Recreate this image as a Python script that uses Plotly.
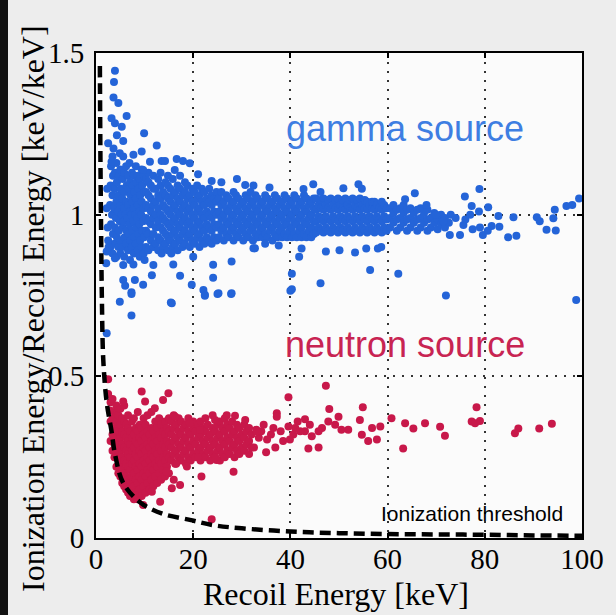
import plotly.graph_objects as go

# ---------------- data ----------------
x_ticks = [0, 20, 40, 60, 80, 100]
y_ticks = [0, 0.5, 1, 1.5]
y_ticktext = ["0", "0.5", "1", "1.5"]

threshold_x = [0.8, 0.9, 1.05, 1.2, 1.5, 2.2, 3.2, 3.9, 5.6, 9.1, 13.5, 19.3, 24, 30, 40, 50, 60, 70, 80, 90, 100]
threshold_y = [1.46, 1.2, 0.95, 0.75, 0.55, 0.42, 0.33, 0.26, 0.17, 0.11, 0.076, 0.056, 0.040, 0.030, 0.020, 0.015, 0.012, 0.011, 0.010, 0.008, 0.007]

gamma_core = [
    (3.0,0.90),(3.1,0.97),(2.9,1.03),(3.0,1.09),(3.1,1.15),
    (3.4,0.88),(3.5,0.94),(3.3,1.00),(3.4,1.06),(3.5,1.12),(3.4,1.18),
    (3.8,0.91),(3.9,0.96),(3.7,1.02),(3.8,1.08),(3.9,1.13),
    (4.2,0.87),(4.3,0.93),(4.1,0.99),(4.2,1.04),(4.3,1.10),(4.2,1.16),
    (4.6,0.90),(4.7,0.95),(4.5,1.01),(4.6,1.06),(4.7,1.12),
    (5.0,0.88),(5.1,0.92),(4.9,0.98),(5.0,1.03),(5.1,1.08),(5.0,1.14),(4.9,1.19),
    (5.4,0.90),(5.5,0.96),(5.3,1.00),(5.4,1.05),(5.5,1.11),
    (5.8,0.87),(5.9,0.93),(5.7,0.98),(5.8,1.02),(5.9,1.07),(5.8,1.13),
    (6.2,0.91),(6.3,0.95),(6.1,1.00),(6.2,1.04),(6.3,1.09),(6.2,1.15),
    (6.6,0.89),(6.7,0.94),(6.5,0.99),(6.6,1.03),(6.7,1.08),(6.6,1.12),
    (7.0,0.86),(7.1,0.92),(6.9,0.97),(7.0,1.01),(7.1,1.06),(7.0,1.10),(6.9,1.16),
    (7.4,0.90),(7.5,0.95),(7.3,1.00),(7.4,1.04),(7.5,1.09),(7.4,1.13),
    (7.8,0.88),(7.9,0.93),(7.7,0.98),(7.8,1.02),(7.9,1.07),(7.8,1.12),
    (8.2,0.91),(8.3,0.96),(8.1,1.00),(8.2,1.05),(8.3,1.10),(8.2,1.15),
    (8.6,0.89),(8.7,0.94),(8.5,0.99),(8.6,1.03),(8.7,1.08),(8.6,1.12),
    (9.0,0.87),(9.1,0.92),(8.9,0.97),(9.0,1.01),(9.1,1.06),(9.0,1.11),
    (9.4,0.90),(9.5,0.95),(9.3,1.00),(9.4,1.04),(9.5,1.09),(9.4,1.14),
    (9.8,0.88),(9.9,0.93),(9.7,0.98),(9.8,1.02),(9.9,1.07),(9.8,1.12),
    (10.3,0.90),(10.3,0.95),(10.3,0.99),(10.3,1.03),(10.3,1.07),(10.3,1.11),
    (10.8,0.89),(10.8,0.94),(10.8,0.98),(10.8,1.02),(10.8,1.06),(10.8,1.10),(10.8,1.13),
    (11.3,0.92),(11.3,0.97),(11.3,1.01),(11.3,1.05),(11.3,1.09),
    (11.8,0.90),(11.8,0.94),(11.8,0.99),(11.8,1.03),(11.8,1.08),(11.8,1.12),
    (12.3,0.91),(12.3,0.96),(12.3,1.00),(12.3,1.04),(12.3,1.08),
    (12.8,0.89),(12.8,0.93),(12.8,0.98),(12.8,1.02),(12.8,1.06),(12.8,1.11),
    (13.3,0.92),(13.3,0.96),(13.3,1.00),(13.3,1.05),(13.3,1.09),(13.3,1.13),
    (13.8,0.90),(13.8,0.95),(13.8,0.99),(13.8,1.03),(13.8,1.07),
    (14.3,0.91),(14.3,0.94),(14.3,0.98),(14.3,1.02),(14.3,1.06),(14.3,1.10),
    (14.8,0.89),(14.8,0.93),(14.8,0.97),(14.8,1.01),(14.8,1.05),(14.8,1.09),(14.8,1.12),
    (15.3,0.92),(15.3,0.96),(15.3,1.00),(15.3,1.04),(15.3,1.08),
    (15.8,0.90),(15.8,0.94),(15.8,0.98),(15.8,1.02),(15.8,1.06),(15.8,1.11),
    (16.3,0.91),(16.3,0.95),(16.3,0.99),(16.3,1.03),(16.3,1.07),
    (16.8,0.89),(16.8,0.93),(16.8,0.97),(16.8,1.01),(16.8,1.05),(16.8,1.09),
    (17.3,0.92),(17.3,0.96),(17.3,1.00),(17.3,1.04),(17.3,1.08),(17.3,1.12),
    (17.8,0.90),(17.8,0.94),(17.8,0.98),(17.8,1.02),(17.8,1.06),
    (18.3,0.91),(18.3,0.95),(18.3,0.99),(18.3,1.03),(18.3,1.07),(18.3,1.10),
    (18.8,0.93),(18.8,0.97),(18.8,1.01),(18.8,1.05),(18.8,1.09),
    (19.3,0.90),(19.3,0.94),(19.3,0.98),(19.3,1.02),(19.3,1.06),
    (19.8,0.92),(19.8,0.96),(19.8,1.00),(19.8,1.04),(19.8,1.08),
    (20.3,0.91),(20.3,0.95),(20.3,0.99),(20.3,1.03),(20.3,1.07),
    (20.8,0.93),(20.8,0.97),(20.8,1.01),(20.8,1.05),(20.8,1.09),
    (21.3,0.90),(21.3,0.94),(21.3,0.98),(21.3,1.02),(21.3,1.06),
    (21.8,0.92),(21.8,0.96),(21.8,1.00),(21.8,1.04),(21.8,1.08),
    (22.3,0.91),(22.3,0.95),(22.3,0.99),(22.3,1.03),(22.3,1.07),
    (22.8,0.93),(22.8,0.97),(22.8,1.01),(22.8,1.05),
    (23.3,0.92),(23.3,0.96),(23.3,1.00),(23.3,1.04),(23.3,1.08),
    (23.8,0.91),(23.8,0.95),(23.8,0.99),(23.8,1.03),(23.8,1.06),
    (24.3,0.93),(24.3,0.97),(24.3,1.01),(24.3,1.05),
    (24.8,0.92),(24.8,0.96),(24.8,1.00),(24.8,1.04),(24.8,1.07),
    (25.3,0.93),(25.3,0.97),(25.3,1.01),(25.3,1.05),
    (25.8,0.95),(25.8,0.99),(25.8,1.03),(25.8,1.07),
    (26.3,0.92),(26.3,0.96),(26.3,1.00),(26.3,1.04),
    (26.8,0.94),(26.8,0.98),(26.8,1.02),(26.8,1.06),
    (27.3,0.93),(27.3,0.97),(27.3,1.01),(27.3,1.05),
    (27.8,0.95),(27.8,0.99),(27.8,1.03),
    (28.3,0.92),(28.3,0.96),(28.3,1.00),(28.3,1.04),(28.3,1.07),
    (28.8,0.94),(28.8,0.98),(28.8,1.02),(28.8,1.06),
    (29.3,0.93),(29.3,0.97),(29.3,1.01),(29.3,1.05),
    (29.8,0.95),(29.8,0.99),(29.8,1.03),
    (30.3,0.92),(30.3,0.96),(30.3,1.00),(30.3,1.04),
    (30.8,0.94),(30.8,0.98),(30.8,1.02),(30.8,1.06),
    (31.3,0.93),(31.3,0.97),(31.3,1.01),(31.3,1.05),
    (31.8,0.95),(31.8,0.99),(31.8,1.03),(31.8,1.07),
    (32.3,0.92),(32.3,0.96),(32.3,1.00),(32.3,1.04),
    (32.8,0.94),(32.8,0.98),(32.8,1.02),(32.8,1.06),
    (33.3,0.93),(33.3,0.97),(33.3,1.01),(33.3,1.05),
    (33.8,0.95),(33.8,0.99),(33.8,1.03),
    (34.3,0.93),(34.3,0.96),(34.3,1.00),(34.3,1.04),
    (34.8,0.94),(34.8,0.98),(34.8,1.02),(34.8,1.06),
    (35.3,0.93),(35.3,0.97),(35.3,1.01),(35.3,1.05),
    (35.8,0.95),(35.8,0.99),(35.8,1.03),
    (36.3,0.92),(36.3,0.96),(36.3,1.00),(36.3,1.04),
    (36.8,0.94),(36.8,0.98),(36.8,1.02),(36.8,1.06),
    (37.3,0.93),(37.3,0.97),(37.3,1.01),(37.3,1.05),
    (37.8,0.95),(37.8,0.99),(37.8,1.03),
    (38.3,0.93),(38.3,0.96),(38.3,1.00),(38.3,1.04),
    (38.8,0.94),(38.8,0.98),(38.8,1.02),(38.8,1.06),
    (39.3,0.93),(39.3,0.97),(39.3,1.01),(39.3,1.05),
    (39.8,0.95),(39.8,0.99),(39.8,1.03),
    (40.3,0.93),(40.3,0.96),(40.3,1.00),(40.3,1.04),
    (40.8,0.94),(40.8,0.98),(40.8,1.02),(40.8,1.06),
    (41.3,0.93),(41.3,0.97),(41.3,1.01),(41.3,1.05),
    (41.8,0.95),(41.8,0.99),(41.8,1.03),
    (42.3,0.93),(42.3,0.96),(42.3,1.00),(42.3,1.04),
    (42.8,0.94),(42.8,0.98),(42.8,1.02),(42.8,1.06),
    (43.3,0.93),(43.3,0.97),(43.3,1.01),(43.3,1.05),
    (43.8,0.95),(43.8,0.99),(43.8,1.03),
    (44.3,0.93),(44.3,0.96),(44.3,1.00),(44.3,1.04),
    (44.8,0.94),(44.8,0.98),(44.8,1.02),(44.8,1.05),
    (45.3,0.945),(45.3,0.98),(45.3,1.015),(45.3,1.05),
    (45.8,0.96),(45.8,0.995),(45.8,1.03),
    (46.3,0.95),(46.3,0.985),(46.3,1.02),(46.3,1.045),
    (46.8,0.945),(46.8,0.98),(46.8,1.015),(46.8,1.05),
    (47.3,0.96),(47.3,0.995),(47.3,1.03),
    (47.8,0.95),(47.8,0.985),(47.8,1.02),(47.8,1.045),
    (48.3,0.945),(48.3,0.98),(48.3,1.015),(48.3,1.05),
    (48.8,0.96),(48.8,0.995),(48.8,1.03),
    (49.3,0.95),(49.3,0.985),(49.3,1.02),(49.3,1.045),
    (49.8,0.945),(49.8,0.98),(49.8,1.015),(49.8,1.05),
    (50.3,0.96),(50.3,0.995),(50.3,1.03),
    (50.8,0.95),(50.8,0.985),(50.8,1.02),(50.8,1.045),
    (51.3,0.945),(51.3,0.98),(51.3,1.015),(51.3,1.05),
    (51.8,0.96),(51.8,0.995),(51.8,1.03),
    (52.3,0.95),(52.3,0.985),(52.3,1.02),(52.3,1.045),
    (52.8,0.945),(52.8,0.98),(52.8,1.015),(52.8,1.05),
    (53.3,0.96),(53.3,0.995),(53.3,1.03),
    (53.8,0.95),(53.8,0.985),(53.8,1.02),(53.8,1.045),
    (54.3,0.945),(54.3,0.98),(54.3,1.015),(54.3,1.05),
    (54.8,0.96),(54.8,0.995),(54.8,1.03),
    (55.3,0.95),(55.3,0.985),(55.3,1.02),(55.3,1.045),
    (55.8,0.945),(55.8,0.98),(55.8,1.015),(55.8,1.04),
    (56.3,0.96),(56.3,0.995),(56.3,1.03),
    (56.8,0.95),(56.8,0.985),(56.8,1.02),(56.8,1.04),
    (57.3,0.945),(57.3,0.98),(57.3,1.015),(57.3,1.04),
    (57.8,0.96),(57.8,0.995),(57.8,1.03),
    (58.3,0.95),(58.3,0.985),(58.3,1.02),
    (58.8,0.945),(58.8,0.98),(58.8,1.015),(58.8,1.04),
    (59.3,0.96),(59.3,0.995),(59.3,1.03),
    (59.8,0.95),(59.8,0.985),(59.8,1.02),
    (60.5,0.96),(60.5,0.99),(60.5,1.02),
    (61.2,0.975),(61.2,1.005),(61.2,1.03),
    (61.9,0.95),(61.9,0.985),(61.9,1.015),
    (62.6,0.96),(62.6,0.99),(62.6,1.02),
    (63.3,0.975),(63.3,1.005),(63.3,1.03),
    (64.0,0.95),(64.0,0.985),(64.0,1.015),
    (64.7,0.96),(64.7,0.99),(64.7,1.02),
    (65.4,0.975),(65.4,1.005),
    (66.1,0.95),(66.1,0.985),(66.1,1.015),
    (66.8,0.96),(66.8,0.99),(66.8,1.02),
    (67.5,0.975),(67.5,1.005),
    (68.2,0.95),(68.2,0.985),(68.2,1.015),
    (68.9,0.96),(68.9,0.99),
    (69.6,0.975),(69.6,1.005),
    (70.3,0.955),(70.3,0.985),
    (71.0,0.97),(71.0,1.0),
    (71.8,0.96),(71.8,0.99),
    (72.6,0.975),
]

gamma_sparse = [
    (3.9,1.445),(3.7,1.41),(3.6,1.362),(4.6,1.345),(6.3,1.305),(3.2,1.298),(3.9,1.283),(5.3,1.272),
    (9.9,1.252),(4.3,1.246),(5.6,1.228),(2.5,1.221),(12.5,1.214),(3.6,1.205),(9.4,1.195),(5.6,1.18),
    (7.7,1.185),(11.1,1.164),(13.5,1.166),(14.2,1.166),(16.6,1.172),(17.9,1.166),(19.3,1.159),(3.2,1.164),
    (9.7,1.138),(16.2,1.138),(21.0,1.125),(23.8,1.104),(25.8,1.10),(29.0,1.11),(30.7,1.092),(32.4,1.09),
    (2.3,1.08),(2.2,1.02),(2.4,0.96),(2.6,0.90),(2.1,0.85),
    (2.2,0.886),(2.5,0.92),(3.9,0.865),(5.6,0.844),(7.7,0.846),(10.0,0.86),(11.8,0.844),(13.5,0.88),
    (15.5,0.88),(15.9,0.846),(20.0,0.87),(24.1,0.845),(27.9,0.855),(32.7,0.896),(17.3,0.811),(11.5,0.813),
    (9.7,0.783),(8.0,0.798),(5.6,0.798),(6.0,0.78),(7.3,0.76),(19.7,0.783),(22.1,0.767),(22.4,0.752),
    (24.1,0.805),(25.2,0.757),(27.9,0.757),(4.9,0.731),(15.6,0.726),(7.3,0.688),(2.2,0.633),(7.3,0.755),
    (15.4,0.728),(22.4,0.749),(25.0,0.755),(27.8,0.755),(40.0,0.765),
    (35.7,1.084),(42.7,1.079),(44.7,1.094),(46.2,1.07),(50.9,1.082),(54.0,1.094),(54.7,1.08),(63.6,1.048),
    (65.6,1.066),(68.0,1.03),(75.9,1.056),(78.9,1.079),(77.3,1.027),(78.8,1.01),(80.7,1.023),(82.8,0.996),
    (85.9,0.992),(90.7,0.992),(91.3,0.98),(94.1,0.989),(94.4,1.015),(96.8,1.027),(98.0,1.03),(99.4,1.05),
    (81.4,0.965),(83.0,0.963),(79.0,0.96),(84.8,0.93),(86.5,0.935),(92.7,0.953),(94.6,0.951),(75.6,0.968),
    (77.5,0.955),(74.9,0.937),(72.8,0.937),(79.6,0.937),(80.6,0.95),
    (70.0,1.0),(71.5,0.98),(73.0,1.0),(74.0,0.99),(76.0,0.985),(77.0,1.0),
    (32.4,0.896),(34.8,0.91),(37.6,0.905),(41.8,0.87),(42.3,0.895),(47.3,0.886),(50.1,0.89),(53.3,0.883),
    (55.6,0.895),(58.0,0.895),(58.7,0.90),(40.3,0.817),(40.3,0.769),(46.2,0.788),(56.4,0.829),(62.2,0.817),
    (72.0,0.75),(98.8,0.736),
]

neutron_core = [
    (3.0,0.30),(3.0,0.36),(3.0,0.42),
    (3.4,0.27),(3.4,0.32),(3.4,0.37),(3.4,0.43),
    (3.8,0.25),(3.8,0.29),(3.8,0.34),(3.8,0.39),
    (4.2,0.22),(4.2,0.27),(4.2,0.31),(4.2,0.36),(4.2,0.41),
    (4.6,0.20),(4.6,0.25),(4.6,0.29),(4.6,0.33),(4.6,0.38),
    (5.0,0.19),(5.0,0.23),(5.0,0.27),(5.0,0.31),(5.0,0.35),(5.0,0.40),
    (5.4,0.17),(5.4,0.21),(5.4,0.25),(5.4,0.29),(5.4,0.33),(5.4,0.37),
    (5.8,0.16),(5.8,0.20),(5.8,0.24),(5.8,0.28),(5.8,0.32),(5.8,0.36),(5.8,0.41),
    (6.2,0.15),(6.2,0.19),(6.2,0.23),(6.2,0.27),(6.2,0.31),(6.2,0.35),
    (6.6,0.14),(6.6,0.18),(6.6,0.22),(6.6,0.26),(6.6,0.30),(6.6,0.34),(6.6,0.38),
    (7.0,0.13),(7.0,0.17),(7.0,0.21),(7.0,0.25),(7.0,0.29),(7.0,0.33),
    (7.4,0.15),(7.4,0.19),(7.4,0.23),(7.4,0.27),(7.4,0.31),(7.4,0.36),
    (7.8,0.12),(7.8,0.16),(7.8,0.20),(7.8,0.24),(7.8,0.28),(7.8,0.32),(7.8,0.37),
    (8.2,0.14),(8.2,0.18),(8.2,0.22),(8.2,0.26),(8.2,0.30),(8.2,0.34),
    (8.6,0.12),(8.6,0.17),(8.6,0.21),(8.6,0.25),(8.6,0.29),(8.6,0.33),(8.6,0.39),
    (9.0,0.15),(9.0,0.19),(9.0,0.23),(9.0,0.27),(9.0,0.31),(9.0,0.35),
    (9.4,0.13),(9.4,0.18),(9.4,0.22),(9.4,0.26),(9.4,0.30),(9.4,0.34),
    (9.8,0.16),(9.8,0.20),(9.8,0.24),(9.8,0.28),(9.8,0.32),(9.8,0.37),
    (10.2,0.14),(10.2,0.19),(10.2,0.23),(10.2,0.27),(10.2,0.31),(10.2,0.35),
    (10.6,0.17),(10.6,0.21),(10.6,0.25),(10.6,0.29),(10.6,0.33),(10.6,0.38),
    (11.0,0.15),(11.0,0.20),(11.0,0.24),(11.0,0.28),(11.0,0.32),
    (11.4,0.18),(11.4,0.22),(11.4,0.26),(11.4,0.30),(11.4,0.34),(11.4,0.39),
    (11.8,0.16),(11.8,0.21),(11.8,0.25),(11.8,0.29),(11.8,0.33),
    (12.2,0.19),(12.2,0.23),(12.2,0.27),(12.2,0.31),(12.2,0.36),
    (12.6,0.17),(12.6,0.22),(12.6,0.26),(12.6,0.30),(12.6,0.34),
    (13.0,0.20),(13.0,0.24),(13.0,0.28),(13.0,0.32),(13.0,0.37),
    (13.4,0.18),(13.4,0.23),(13.4,0.27),(13.4,0.31),(13.4,0.35),
    (13.8,0.21),(13.8,0.25),(13.8,0.29),(13.8,0.33),
    (14.2,0.19),(14.2,0.24),(14.2,0.28),(14.2,0.32),(14.2,0.36),
    (14.6,0.22),(14.6,0.26),(14.6,0.30),(14.6,0.34),
    (15.0,0.20),(15.0,0.25),(15.0,0.29),(15.0,0.33),(15.0,0.37),
    (15.5,0.24),(15.5,0.28),(15.5,0.32),(15.5,0.36),
    (16.0,0.26),(16.0,0.30),(16.0,0.34),(16.0,0.38),
    (16.5,0.23),(16.5,0.27),(16.5,0.31),(16.5,0.35),
    (17.0,0.25),(17.0,0.29),(17.0,0.33),(17.0,0.37),
    (17.5,0.24),(17.5,0.28),(17.5,0.32),(17.5,0.36),
    (18.0,0.26),(18.0,0.30),(18.0,0.34),
    (18.5,0.23),(18.5,0.27),(18.5,0.31),(18.5,0.35),
    (19.0,0.25),(19.0,0.29),(19.0,0.33),(19.0,0.37),
    (19.5,0.24),(19.5,0.28),(19.5,0.32),
    (20.0,0.26),(20.0,0.30),(20.0,0.34),(20.0,0.36),
    (20.5,0.25),(20.5,0.29),(20.5,0.33),
    (21.0,0.27),(21.0,0.31),(21.0,0.35),
    (21.5,0.24),(21.5,0.28),(21.5,0.32),(21.5,0.36),
    (22.0,0.26),(22.0,0.30),(22.0,0.34),
    (22.5,0.25),(22.5,0.29),(22.5,0.33),(22.5,0.37),
    (23.0,0.27),(23.0,0.31),(23.0,0.35),
    (23.5,0.24),(23.5,0.28),(23.5,0.32),
    (24.0,0.26),(24.0,0.30),(24.0,0.34),(24.0,0.38),
    (24.5,0.25),(24.5,0.29),(24.5,0.33),
    (25.0,0.27),(25.0,0.31),(25.0,0.35),
    (25.5,0.24),(25.5,0.28),(25.5,0.32),(25.5,0.36),
    (26.0,0.26),(26.0,0.30),(26.0,0.34),
    (26.5,0.25),(26.5,0.29),(26.5,0.33),(26.5,0.37),
    (27.0,0.27),(27.0,0.31),(27.0,0.35),
    (27.5,0.26),(27.5,0.30),(27.5,0.34),
    (28.0,0.28),(28.0,0.32),(28.0,0.36),
    (28.5,0.25),(28.5,0.29),(28.5,0.33),
    (29.0,0.27),(29.0,0.31),(29.0,0.35),
    (29.5,0.26),(29.5,0.30),(29.5,0.34),
    (30.0,0.28),(30.0,0.32),
    (30.5,0.27),(30.5,0.31),(30.5,0.35),
    (31.0,0.29),(31.0,0.33),
    (31.5,0.26),(31.5,0.30),(31.5,0.34),
    (32.0,0.28),(32.0,0.32),
    (33.5,0.31),(34.0,0.33),(36.0,0.32),(36.5,0.34),(38.0,0.33),(38.5,0.30),
    (41.0,0.34),(41.5,0.36),(43.0,0.33),(44.0,0.35),
]

neutron_sparse = [
    (2.5,0.491),(2.5,0.445),(9.4,0.453),(14.9,0.448),(10.1,0.422),(13.8,0.427),(5.6,0.422),(2.9,0.394),
    (12.1,0.401),(16.3,0.375),(19.3,0.355),(21.4,0.334),(24.5,0.365),(26.9,0.38),(28.6,0.378),(30.7,0.365),
    (33.0,0.335),(3.9,0.272),(5.6,0.179),(8.0,0.133),(9.7,0.102),(13.2,0.112),(11.5,0.143),(15.6,0.154),
    (17.3,0.164),(16.0,0.18),(14.5,0.205),(21.7,0.19),(28.3,0.205),(23.8,0.058),(18.7,0.221),(16.3,0.23),
    (21.0,0.25),(24.8,0.241),(24.5,0.25),
    (47.3,0.471),(39.6,0.435),(48.0,0.399),(54.9,0.404),(78.3,0.404),(37.2,0.386),(43.0,0.367),(49.9,0.375),
    (54.3,0.365),(60.8,0.37),(63.6,0.355),(65.3,0.339),(67.7,0.355),(70.8,0.344),(71.8,0.316),(77.3,0.36),
    (78.0,0.355),(79.0,0.362),(86.9,0.339),(86.2,0.324),(91.2,0.339),(93.8,0.353),(63.2,0.277),(57.8,0.305),
    (56.0,0.30),(56.8,0.34),(58.5,0.345),(54.7,0.319),(47.8,0.36),(49.2,0.35),(51.9,0.335),(50.5,0.335),
    (46.5,0.34),(45.8,0.33),(44.4,0.315),(43.7,0.277),(45.8,0.28),(39.6,0.345),(40.6,0.32),(39.9,0.305),
    (42.0,0.33),(37.2,0.375),(34.5,0.35),(33.1,0.33),(35.2,0.305),(36.9,0.28),(35.0,0.265),(32.5,0.28),
]

labels = {"gamma": "gamma source", "neutron": "neutron source", "threshold": "Ionization threshold"}
x_title = "Recoil Energy [keV]"
y_title = "Ionization Energy/Recoil Energy [keV/keV]"

# ---------------- styling ----------------
GAMMA_COL = "rgb(36,100,216)"
GAMMA_TXT = "rgb(62,126,226)"
NEUT_COL = "rgb(200,24,74)"
NEUT_TXT = "rgb(200,36,82)"
SERIF = "Liberation Serif, Times New Roman, serif"
SANS = "Liberation Sans, Arial, Helvetica, sans-serif"

W, H = 616, 615
L, R, T, B = 96, 34, 53, 77
PW, PH = W - L - R, H - T - B


def unzip(pairs):
    return [p[0] for p in pairs], [p[1] for p in pairs]


fig = go.Figure()
for pts, col in [(gamma_core, GAMMA_COL), (gamma_sparse, GAMMA_COL),
                 (neutron_core, NEUT_COL), (neutron_sparse, NEUT_COL)]:
    xs, ys = unzip(pts)
    fig.add_trace(go.Scatter(x=xs, y=ys, mode="markers",
                             marker=dict(color=col, size=8, line=dict(width=0)),
                             hoverinfo="skip"))

fig.add_trace(go.Scatter(x=threshold_x, y=threshold_y, mode="lines",
                         line=dict(color="black", width=4.5, dash="11px,6px", shape="spline"),
                         hoverinfo="skip"))

axis_common = dict(showline=True, linecolor="black", linewidth=2, mirror="allticks",
                   ticks="inside", ticklen=5, tickwidth=2, tickcolor="black",
                   showgrid=True, gridcolor="#333333", gridwidth=1.5, griddash="2px,7px",
                   zeroline=False, tickfont=dict(family=SERIF, size=29, color="black"))

fig.update_xaxes(range=[0, 100], tickvals=x_ticks, ticklabelstandoff=-6, **axis_common)
fig.update_yaxes(range=[0, 1.5], tickvals=y_ticks, ticktext=y_ticktext, ticklabelstandoff=4, **axis_common)


def px_x(p):
    return (p - L) / PW


def px_y(p):
    return (H - B - p) / PH


fig.update_layout(
    width=W, height=H, margin=dict(l=L, r=R, t=T, b=B),
    paper_bgcolor="#ededed", plot_bgcolor="#fbfbfb", showlegend=False,
    shapes=[dict(type="rect", xref="paper", yref="paper",
                 x0=px_x(0), x1=px_x(8), y0=px_y(H), y1=px_y(0),
                 fillcolor="#111111", line=dict(width=0), layer="below")],
    annotations=[
        dict(x=63.6, y=1.265, xref="x", yref="y", text=labels["gamma"], showarrow=False,
             xanchor="center", yanchor="middle",
             font=dict(family=SANS, size=36, color=GAMMA_TXT)),
        dict(x=63.6, y=0.60, xref="x", yref="y", text=labels["neutron"], showarrow=False,
             xanchor="center", yanchor="middle",
             font=dict(family=SANS, size=36, color=NEUT_TXT)),
        dict(x=77.4, y=0.077, xref="x", yref="y", text=labels["threshold"], showarrow=False,
             xanchor="center", yanchor="middle",
             font=dict(family=SANS, size=21, color="black")),
        dict(x=px_x(336), y=px_y(594), xref="paper", yref="paper", text=x_title, showarrow=False,
             xanchor="center", yanchor="middle",
             font=dict(family=SERIF, size=32, color="black")),
        dict(x=px_x(33), y=px_y(309), xref="paper", yref="paper", text=y_title, showarrow=False,
             xanchor="center", yanchor="middle", textangle=-90,
             font=dict(family=SERIF, size=32, color="black")),
    ],
)

fig.write_html("out.html")
